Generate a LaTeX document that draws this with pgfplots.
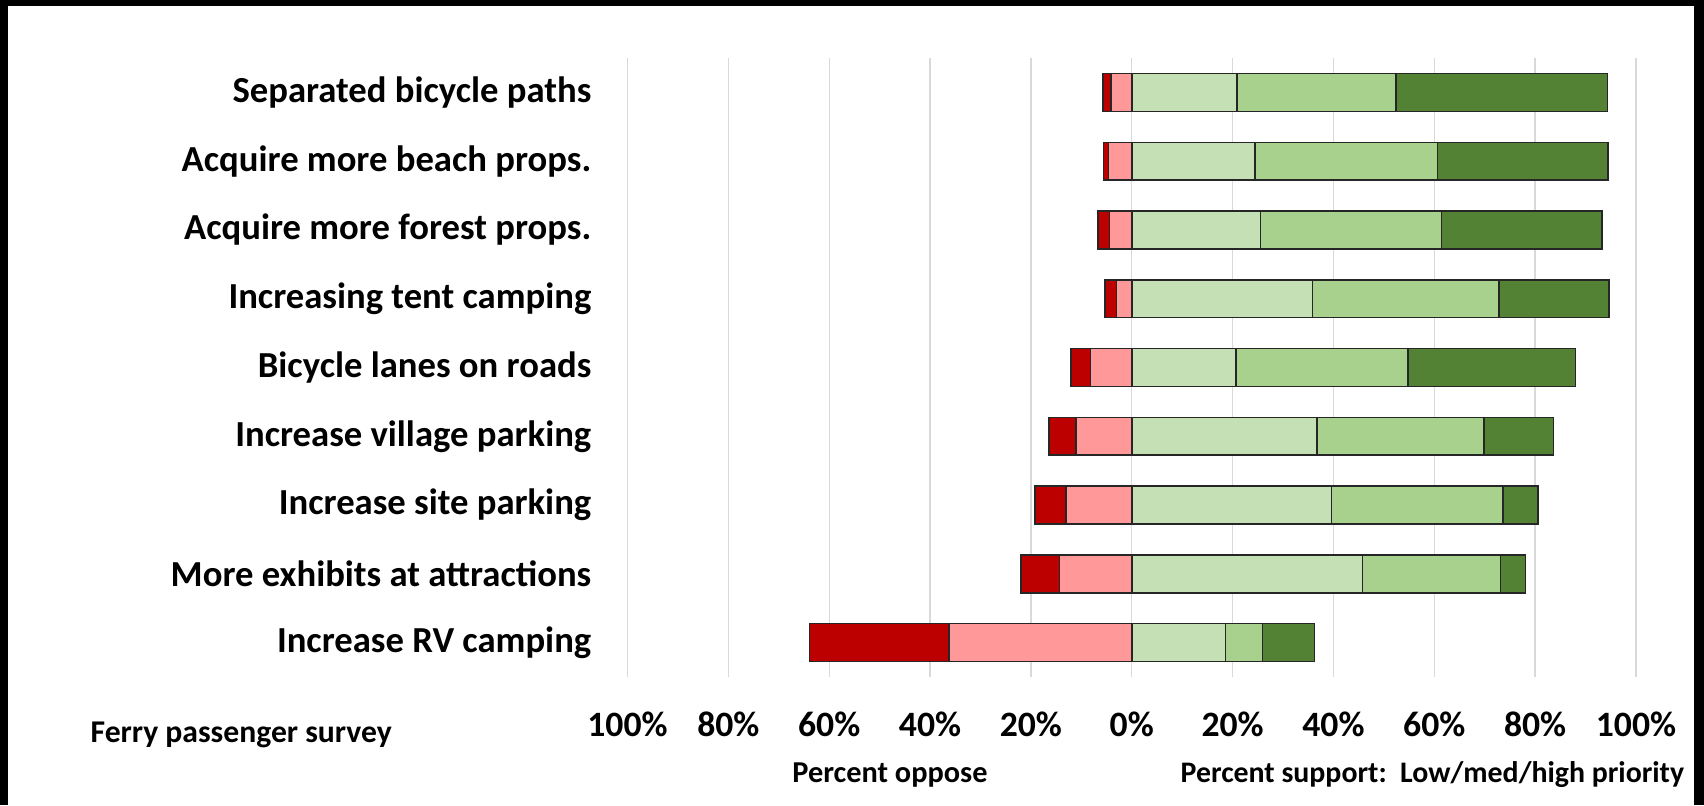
\documentclass[border=0pt]{standalone}
\usepackage{fontspec}
\setmainfont{Carlito}
\usepackage{pgfplots}
\pgfplotsset{compat=1.18}
\usepackage{pgfplotstable}
\definecolor{oppHigh}{HTML}{BC0000}
\definecolor{oppLow}{HTML}{FF9999}
\definecolor{supLow}{HTML}{C5E0B4}
\definecolor{supMed}{HTML}{A9D18E}
\definecolor{supHigh}{HTML}{548235}
\definecolor{gridc}{HTML}{D9D9D9}

% y: row (0 = top); strong/mild = oppose (percent), low/med/high = support priority (percent)
\pgfplotstableread{
y strong mild low med high
0 1.6 4.1 20.9 31.5 41.9
1 1.0 4.6 24.4 36.2 33.8
2 2.3 4.4 25.5 35.9 31.9
3 2.3 3.0 35.8 37.0 21.8
4 3.8 8.2 20.7 34.1 33.2
5 5.3 11.1 36.7 33.2 13.7
6 6.2 13.0 39.6 34.0 7.0
7 7.7 14.3 45.8 27.3 5.0
8 27.7 36.2 18.6 7.3 10.3
}\survey

\begin{document}
\begin{tikzpicture}
\fill[white] (0,0) rectangle (511.2pt,-241.5pt);
\useasboundingbox (0,0) rectangle (511.2pt,-241.5pt);
\begin{axis}[
  at={(188.25pt,-203.1pt)}, anchor=south west,
  scale only axis, width=302.55pt, height=185.7pt,
  xmin=-100, xmax=100, ymin=-0.5, ymax=8.5, y dir=reverse,
  xtick={-100,-80,...,100},
  xticklabels={100\%,80\%,60\%,40\%,20\%,0\%,20\%,40\%,60\%,80\%,100\%},
  ytick={0,...,8},
  yticklabels={Separated bicycle paths,Acquire more beach props.,Acquire more forest props.,Increasing tent camping,Bicycle lanes on roads,Increase village parking,Increase site parking,More exhibits at attractions,Increase RV camping},
  xmajorgrids, major grid style={gridc, line width=0.4pt},
  axis line style={draw=none}, tick style={draw=none},
  /pgf/number format/assume math mode=true,
  xticklabel style={font=\fontsize{10.7}{12}\selectfont\bfseries, anchor=base, yshift=-17.7pt},
  yticklabel style={font=\fontsize{11}{13}\selectfont\bfseries, anchor=east, inner sep=0pt, xshift=-10.65pt},
  seg/.style={xbar, bar width=0.55, bar shift=0, draw=black!85, line width=0.45pt},
]
\addplot[seg, fill=supHigh] table[y=y, x expr=\thisrow{low}+\thisrow{med}+\thisrow{high}] {\survey};
\addplot[seg, fill=supMed] table[y=y, x expr=\thisrow{low}+\thisrow{med}] {\survey};
\addplot[seg, fill=supLow] table[y=y, x=low] {\survey};
\addplot[seg, fill=oppHigh] table[y=y, x expr=-(\thisrow{strong}+\thisrow{mild})] {\survey};
\addplot[seg, fill=oppLow] table[y=y, x expr=-\thisrow{mild}] {\survey};
\end{axis}
\fill[black] (0,0) rectangle (2.4pt,-241.5pt);
\fill[black] (0,0) rectangle (511.2pt,-1.8pt);
\fill[black] (508.2pt,0) rectangle (511.2pt,-241.5pt);
\node[anchor=west, inner sep=0pt, font=\fontsize{9.5}{11}\selectfont\bfseries] at (27pt,-220.5pt) {Ferry passenger survey};
\node[anchor=base, inner sep=0pt, font=\fontsize{9.1}{11}\selectfont\bfseries] at (267pt,-234.6pt) {Percent oppose};
\node[anchor=base west, inner sep=0pt, font=\fontsize{8.95}{11}\selectfont\bfseries] at (354pt,-234.6pt) {Percent support:\ \ Low/med/high priority};
\end{tikzpicture}
\end{document}
